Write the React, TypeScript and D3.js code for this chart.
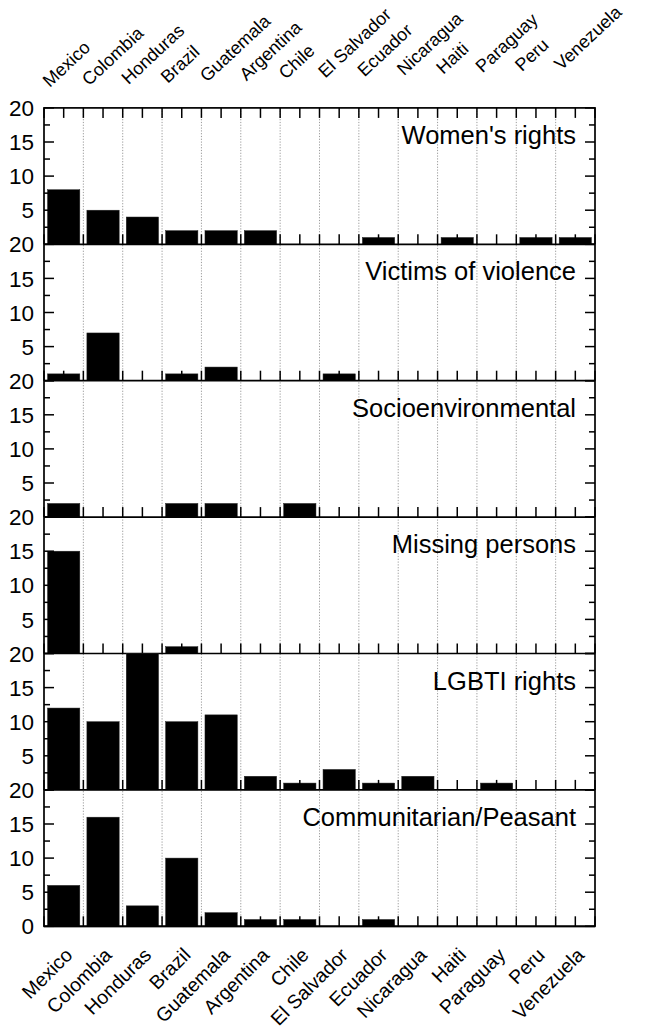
import React, { useEffect } from 'react';
import * as d3 from 'd3';

const countries = ["Mexico", "Colombia", "Honduras", "Brazil", "Guatemala", "Argentina", "Chile", "El Salvador", "Ecuador", "Nicaragua", "Haiti", "Paraguay", "Peru", "Venezuela"];
const panelTitles = ["Women's rights", "Victims of violence", "Socioenvironmental", "Missing persons", "LGBTI rights", "Communitarian/Peasant"];
const womensRights = [8, 5, 4, 2, 2, 2, 0, 0, 1, 0, 1, 0, 1, 1];
const victimsOfViolence = [1, 7, 0, 1, 2, 0, 0, 1, 0, 0, 0, 0, 0, 0];
const socioenvironmental = [2, 0, 0, 2, 2, 0, 2, 0, 0, 0, 0, 0, 0, 0];
const missingPersons = [15, 0, 0, 1, 0, 0, 0, 0, 0, 0, 0, 0, 0, 0];
const lgbtiRights = [12, 10, 20, 10, 11, 2, 1, 3, 1, 2, 0, 1, 0, 0];
const communitarianPeasant = [6, 16, 3, 10, 2, 1, 1, 0, 1, 0, 0, 0, 0, 0];
const yMajorTicks = [0, 5, 10, 15, 20];
const yMinorTicks = [2.5, 7.5, 12.5, 17.5];
const yTickLabels = [5, 10, 15, 20];

const series = [womensRights, victimsOfViolence, socioenvironmental, missingPersons, lgbtiRights, communitarianPeasant];

const W = 647, H = 1029;
const left = 44, right = 595, top = 107.9, panelH = 136.4;
const FONT = "'Liberation Sans', Arial, sans-serif";

export default function App() {
  useEffect(() => { document.body.style.margin = '0'; }, []);
  const x = d3.scaleBand<string>().domain(countries).range([left, right]).paddingInner(0.18).paddingOuter(0.09);
  const step = x.step();
  const nHalf = countries.length * 2;
  const halfTicks = d3.range(nHalf + 1).map(k => left + k * step / 2);
  const gridX = d3.range(1, countries.length).map(i => left + i * step);
  const bottomAll = top + panelH * series.length;

  return (
    <svg width={W} height={H} style={{ position: 'absolute', left: 0, top: 0, background: '#fff' }} fontFamily={FONT}>
      <rect x={0} y={0} width={W} height={H} fill="#fff" />
      {gridX.map((gx, i) => (
        <line key={'g' + i} x1={gx} x2={gx} y1={top} y2={bottomAll} stroke="#8f8f8f" strokeWidth={0.9} strokeDasharray="1.2,1.6" />
      ))}
      {series.map((vals, p) => {
        const pTop = top + p * panelH;
        const pBot = pTop + panelH;
        const y = d3.scaleLinear().domain([0, 20]).range([pBot, pTop]);
        return (
          <g key={'p' + p}>
            {vals.map((v, i) => v > 0 ? (
              <rect key={'b' + i} x={x(countries[i])} width={x.bandwidth()} y={y(v)} height={y(0) - y(v)} fill="#000" stroke="#222" strokeWidth={0.5} />
            ) : null)}
            {halfTicks.map((tx, k) => (
              <line key={'bt' + k} x1={tx} x2={tx} y1={pBot} y2={pBot - 10} stroke="#000" strokeWidth={1.5} />
            ))}
            {p === 0 && halfTicks.map((tx, k) => (
              <line key={'tt' + k} x1={tx} x2={tx} y1={pTop} y2={pTop + 10} stroke="#000" strokeWidth={1.5} />
            ))}
            {yMajorTicks.map(t => (
              <g key={'ym' + t}>
                <line x1={left} x2={left + 10} y1={y(t)} y2={y(t)} stroke="#000" strokeWidth={1.5} />
                <line x1={right} x2={right - 10} y1={y(t)} y2={y(t)} stroke="#000" strokeWidth={1.5} />
              </g>
            ))}
            {yMinorTicks.map(t => (
              <g key={'yn' + t}>
                <line x1={left} x2={left + 6} y1={y(t)} y2={y(t)} stroke="#000" strokeWidth={1.5} />
                <line x1={right} x2={right - 6} y1={y(t)} y2={y(t)} stroke="#000" strokeWidth={1.5} />
              </g>
            ))}
            {yTickLabels.map(t => (
              <text key={'yl' + t} x={34} y={y(t)} dy="0.36em" textAnchor="end" fontSize={22.5} fill="#000">{t}</text>
            ))}
            {p === series.length - 1 && (
              <text x={34} y={y(0)} dy="0.36em" textAnchor="end" fontSize={22.5} fill="#000">0</text>
            )}
            <line x1={left} x2={right} y1={pBot} y2={pBot} stroke="#000" strokeWidth={1.7} />
            <text x={576} y={pTop + 36} textAnchor="end" fontSize={25.5} fill="#000">{panelTitles[p]}</text>
          </g>
        );
      })}
      <rect x={left} y={top} width={right - left} height={bottomAll - top} fill="none" stroke="#000" strokeWidth={1.7} />
      {countries.map((c, i) => {
        const cx = (x(c) as number) + x.bandwidth() / 2;
        return (
          <text key={'tl' + c} transform={`translate(${cx - 14},${top - 20 - i * 1.3}) rotate(-43)`} textAnchor="start" fontSize={18} fill="#000">{c}</text>
        );
      })}
      {countries.map((c, i) => {
        const cx = (x(c) as number) + x.bandwidth() / 2;
        return (
          <text key={'bl' + c} transform={`translate(${cx + 10},${bottomAll + 30}) rotate(-45)`} textAnchor="end" fontSize={19.5} fill="#000">{c}</text>
        );
      })}
    </svg>
  );
}
